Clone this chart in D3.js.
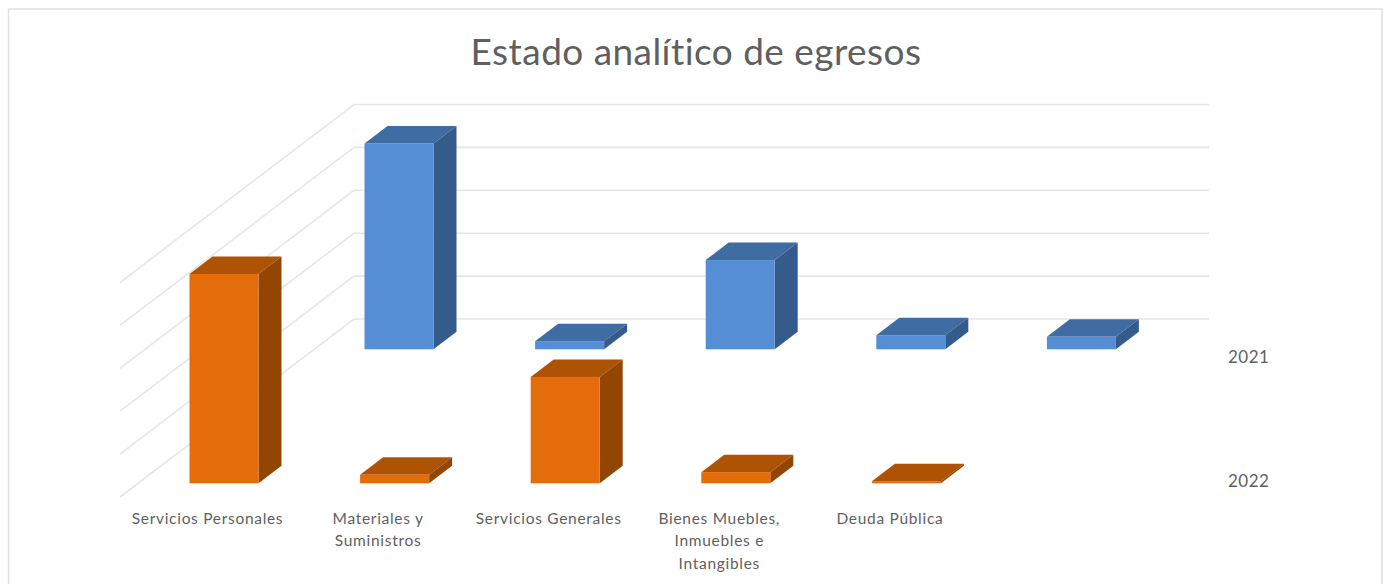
<!DOCTYPE html>
<html>
<head>
<meta charset="utf-8">
<script src="https://cdn.jsdelivr.net/npm/d3@7"></script>
<style>
  html, body { margin: 0; padding: 0; background: #fff; }
  svg { display: block; }
  text { font-family: Lato, "Open Sans", sans-serif; fill: #5f5f5f; }
</style>
</head>
<body>
<div id="chart"></div>
<script>
const categories = ['Servicios Personales', 'Materiales y Suministros', 'Servicios Generales',
  'Bienes Muebles, Inmuebles e Intangibles', 'Deuda Pública', ''];
const categoryLines = [['Servicios Personales'], ['Materiales y', 'Suministros'], ['Servicios Generales'],
  ['Bienes Muebles,', 'Inmuebles e', 'Intangibles'], ['Deuda Pública'], []];
const seriesNames = ['2021', '2022'];
// no value axis in the picture, so values are in gridline steps
const values2021 = [null, 4.80, 0.19, 2.08, 0.33, 0.29];
const values2022 = [4.88, 0.20, 2.48, 0.26, 0.05, null];
const gridTicks = [0, 1, 2, 3, 4, 5];

const width = 1385, height = 584;

const svg = d3.select('#chart').append('svg')
  .attr('width', width)
  .attr('height', height);

svg.append('rect')
  .attr('x', 8.5).attr('y', 9)
  .attr('width', 1373.5).attr('height', 590)
  .attr('fill', '#fff')
  .attr('stroke', '#e0e0e0')
  .attr('stroke-width', 1.6);

svg.append('text')
  .attr('x', 696).attr('y', 65)
  .attr('text-anchor', 'middle')
  .style('font-size', '37px')
  .style('letter-spacing', '0.45px')
  .text('Estado analítico de egresos');

const xScale = d3.scaleBand()
  .domain(d3.range(categories.length))
  .range([189.5, 1111.5])
  .paddingInner(0.5955);

const yScale = d3.scaleLinear()
  .domain([0, 5])
  .range([0, -214.5]);

// where each series sits on the floor, as an offset from the front row
const depthX = d3.scalePoint().domain(seriesNames).range([4.4, 0]);
const depthY = d3.scalePoint().domain(seriesNames).range([349.3, 483.3]);
const labelY = d3.scalePoint().domain(seriesNames).range([363.3, 486.7]);

// gridlines: side wall then back wall
const gridY = d3.scaleLinear().domain([0, 5]).range([319, 104.5]);
const grid = svg.append('g');
grid.selectAll('path')
  .data(gridTicks)
  .enter().append('path')
  .attr('d', d => `M120,${gridY(d) + 178}L354,${gridY(d)}H1209`)
  .attr('fill', 'none')
  .attr('stroke', '#e6e6e6')
  .attr('stroke-width', 1.6);

const colours = {
  '2021': {front: '#558ed5', top: '#3f6ca3', side: '#355b8a'},
  '2022': {front: '#e46c0a', top: '#ae5204', side: '#934502'}
};
const barDX = 23, barDY = -17.5;

const rows = [
  {name: '2021', values: values2021},
  {name: '2022', values: values2022}
];

rows.forEach(row => {
  const c = colours[row.name];
  const g = svg.append('g');
  const bars = g.selectAll('g')
    .data(row.values.map((v, i) => ({v, i})).filter(d => d.v !== null))
    .enter().append('g')
    .attr('transform', d => `translate(${xScale(d.i) + depthX(row.name)},${depthY(row.name)})`);

  // top face
  bars.append('path')
    .attr('d', d => {
      const w = xScale.bandwidth(), t = yScale(d.v);
      return `M0,${t}l${barDX},${barDY}h${w}l${-barDX},${-barDY}Z`;
    })
    .attr('fill', c.top);

  // side face
  bars.append('path')
    .attr('d', d => {
      const w = xScale.bandwidth(), t = yScale(d.v);
      return `M${w},0l${barDX},${barDY}V${t + barDY}l${-barDX},${-barDY}Z`;
    })
    .attr('fill', c.side);

  // front face
  bars.append('rect')
    .attr('x', 0)
    .attr('y', d => yScale(d.v))
    .attr('width', xScale.bandwidth())
    .attr('height', d => -yScale(d.v))
    .attr('fill', c.front);
});

// category labels
const catLabels = svg.append('g').selectAll('text')
  .data(categoryLines)
  .enter().append('text')
  .attr('text-anchor', 'middle')
  .style('font-size', '15.5px')
  .style('letter-spacing', '0.7px');
catLabels.selectAll('tspan')
  .data((d, i) => d.map((line, k) => ({line, k, i})))
  .enter().append('tspan')
  .attr('x', d => xScale(d.i) + xScale.bandwidth() / 2 - 16.5)
  .attr('y', d => 523.5 + d.k * 22.8)
  .text(d => d.line);

// series labels
svg.append('g').selectAll('text')
  .data(seriesNames)
  .enter().append('text')
  .attr('x', 1228)
  .attr('y', d => labelY(d))
  .style('font-size', '17px')
  .style('letter-spacing', '0.5px')
  .text(d => d);
</script>
</body>
</html>
